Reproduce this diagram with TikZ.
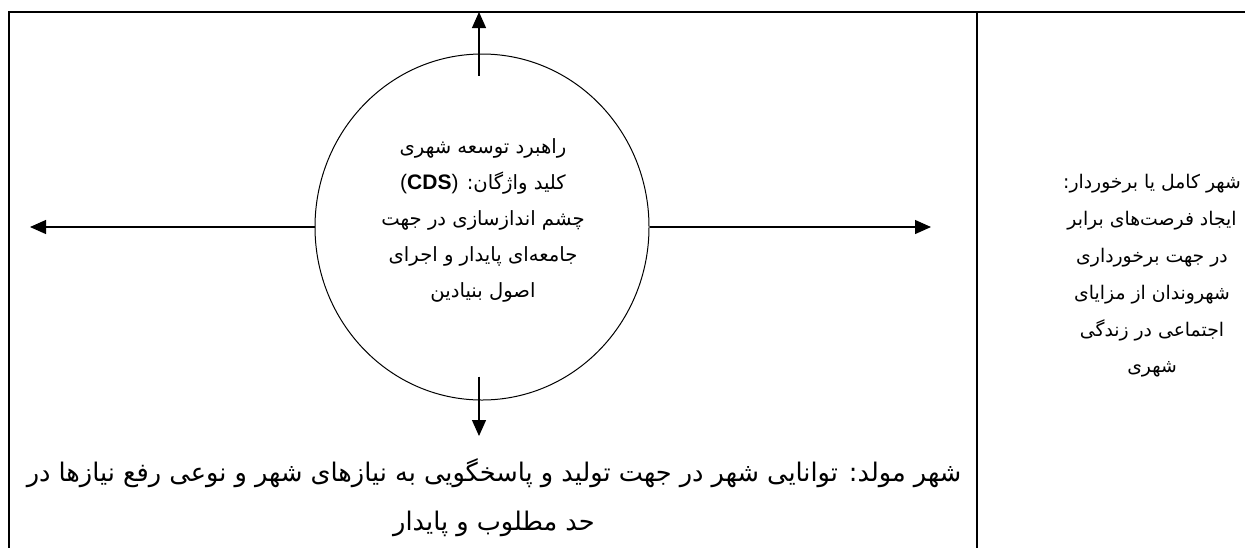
\documentclass[tikz,border=0pt]{standalone}
\usepackage{fontspec}
\usetikzlibrary{shapes.geometric,arrows.meta}
\TeXXeTstate=1
\newfontfamily\arabicfont[Script=Arabic]{DejaVu Sans}
\newfontfamily\latinfont{Liberation Sans}
\newcommand{\rl}[1]{\beginR #1\endR}

\begin{document}
\begin{tikzpicture}[x=0.5pt,y=-0.5pt,
            frame/.style={line width=0.8pt},
            oval/.style={shape=ellipse, draw, line width=0.5pt, minimum width=167pt, minimum height=173pt, inner sep=0pt},
            arr/.style={line width=0.6pt, -{Triangle[length=8pt,width=7pt]}},
            ctext/.style={align=center, inner sep=0pt, font=\arabicfont\fontsize{9.8}{18}\selectfont},
            btext/.style={align=center, inner sep=0pt, font=\arabicfont\fontsize{12.8}{24.5}\selectfont}]
        \useasboundingbox (0,0) rectangle (1245,548);
        \fill[white] (0,0) rectangle (1245,548);

        % table frame
        \draw[frame] (1245,12) -- (9,12) -- (9,548);
        \draw[frame] (977,12) -- (977,548);

        % strategy circle
        \node[oval] (cds) at (482,227) {};
        \node[ctext] (cdslabel) at (483,220) {\rl{راهبرد توسعه شهری}\\
            \rl{کلید واژگان: \beginL{\latinfont\fontsize{10.5}{18}\selectfont(\textbf{CDS})}\endL}\\
            \rl{چشم اندازسازی در جهت}\\
            \rl{جامعه‌ای پایدار و اجرای}\\
            \rl{اصول بنیادین}};

        \coordinate (upfrom) at ([xshift=-1.5pt,yshift=-11pt]cds.north);
        \coordinate (upto) at (479,12);
        \coordinate (downfrom) at ([xshift=-1.5pt,yshift=12pt]cds.south);
        \coordinate (downto) at (479,436);
        \coordinate (leftto) at (30,227);
        \coordinate (rightto) at (931,227);

        \draw[arr] (upfrom) -- (upto);
        \draw[arr] (downfrom) -- (downto);
        \draw[arr] (cds.west) -- (leftto);
        \draw[arr] (cds.east) -- (rightto);

        % the two city types
        \node[ctext, font=\arabicfont\fontsize{9.4}{18.4}\selectfont] (fullcity) at (1152,276) {\rl{شهر کامل یا برخوردار:}\\
            \rl{ایجاد فرصت‌های برابر}\\
            \rl{در جهت برخورداری}\\
            \rl{شهروندان از مزایای}\\
            \rl{اجتماعی در زندگی}\\
            \rl{شهری}};
        \node[btext] (prodcity) at (494,498) {\rl{شهر مولد: توانایی شهر در جهت تولید و پاسخگویی به نیازهای شهر و نوعی رفع نیازها در}\\
            \rl{حد مطلوب و پایدار}};
    \end{tikzpicture}
\end{document}
